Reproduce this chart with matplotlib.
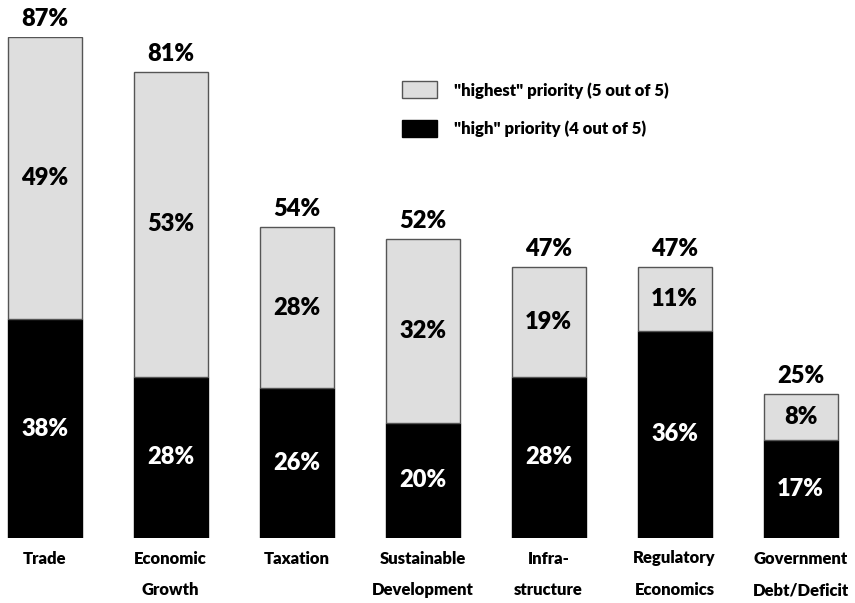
import matplotlib
matplotlib.use("Agg")
import matplotlib.pyplot as plt
import numpy as np

# Values
categories = ["Trade", "Economic\nGrowth", "Taxation", "Sustainable\nDevelopment",
              "Infra-\nstructure", "Regulatory\nEconomics", "Government\nDebt/Deficit"]
high = [38, 28, 26, 20, 28, 36, 17]        # "high" priority (4 out of 5)
highest = [49, 53, 28, 32, 19, 11, 8]      # "highest" priority (5 out of 5)
totals = [87, 81, 54, 52, 47, 47, 25]

plt.rcParams["font.family"] = ["Lato", "DejaVu Sans"]
WEIGHT = 800

W, H = 855, 603
fig = plt.figure(figsize=(W / 100, H / 100), dpi=100)
# axes placed in pixel terms: x spacing 126 px, y 0 at 538 px, 87% at 37 px
left_px, bottom_px = 44.5 - 0.35 * 126, H - 538
ax = fig.add_axes([left_px / W, bottom_px / H, 6.7 * 126 / W, 501 / H])
ax.set_xlim(-0.35, 6.35)
ax.set_ylim(0, 87)

x = np.arange(len(categories))
width = 74 / 126
b1 = ax.bar(x, high, width, color="black", edgecolor="black", lw=1,
            label='"high" priority (4 out of 5)')
b2 = ax.bar(x, highest, width, bottom=high, color="#dedede", edgecolor="#555555",
            lw=1, label='"highest" priority (5 out of 5)')

for i in range(len(x)):
    ax.text(x[i], high[i] / 2, f"{high[i]}%", ha="center", va="center",
            color="white", fontsize=17, fontweight=WEIGHT)
    ax.text(x[i], high[i] + highest[i] / 2, f"{highest[i]}%", ha="center",
            va="center", color="black", fontsize=17, fontweight=WEIGHT)
    ax.text(x[i], totals[i] + 1.2, f"{totals[i]}%", ha="center", va="bottom",
            color="black", fontsize=17, fontweight=WEIGHT, clip_on=False)

ax.set_xticks(x)
ax.set_xticklabels(categories, fontsize=12, fontweight=WEIGHT, linespacing=2.2)
ax.tick_params(axis="x", length=0, pad=9)
ax.set_yticks([])
for s in ax.spines.values():
    s.set_visible(False)

leg = ax.legend(handles=[b2, b1], loc="upper left",
                bbox_to_anchor=(394 / W, 1 - 73 / H), bbox_transform=fig.transFigure,
                frameon=False, fontsize=12, handlelength=2.1, handleheight=1.2,
                handletextpad=1.0, labelspacing=1.3, borderpad=0,
                prop={"weight": WEIGHT, "size": 12})

fig.savefig("out.png", dpi=100)
